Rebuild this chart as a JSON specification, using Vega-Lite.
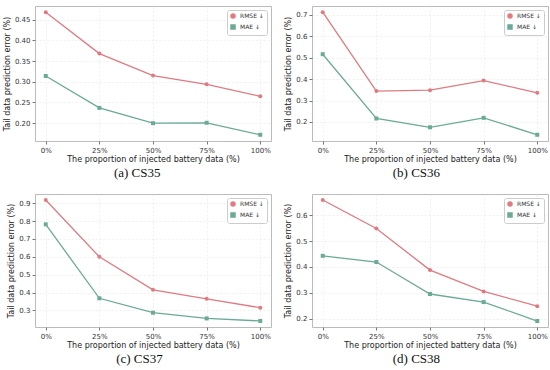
{
  "$schema": "https://vega.github.io/schema/vega-lite/v6.json",
  "padding": {"left": 2, "top": 5, "right": 5, "bottom": 2},
  "background": "white",
  "columns": 2,
  "spacing": {"column": 12, "row": 12},
  "datasets": {
    "errs": [
      {"panel": "a", "prop": "0%", "metric": "RMSE ↓", "value": 0.468},
      {"panel": "a", "prop": "25%", "metric": "RMSE ↓", "value": 0.368},
      {"panel": "a", "prop": "50%", "metric": "RMSE ↓", "value": 0.315},
      {"panel": "a", "prop": "75%", "metric": "RMSE ↓", "value": 0.294},
      {"panel": "a", "prop": "100%", "metric": "RMSE ↓", "value": 0.265},
      {"panel": "a", "prop": "0%", "metric": "MAE ↓", "value": 0.314},
      {"panel": "a", "prop": "25%", "metric": "MAE ↓", "value": 0.237},
      {"panel": "a", "prop": "50%", "metric": "MAE ↓", "value": 0.200},
      {"panel": "a", "prop": "75%", "metric": "MAE ↓", "value": 0.201},
      {"panel": "a", "prop": "100%", "metric": "MAE ↓", "value": 0.172},
      {"panel": "b", "prop": "0%", "metric": "RMSE ↓", "value": 0.712},
      {"panel": "b", "prop": "25%", "metric": "RMSE ↓", "value": 0.344},
      {"panel": "b", "prop": "50%", "metric": "RMSE ↓", "value": 0.348},
      {"panel": "b", "prop": "75%", "metric": "RMSE ↓", "value": 0.393},
      {"panel": "b", "prop": "100%", "metric": "RMSE ↓", "value": 0.336},
      {"panel": "b", "prop": "0%", "metric": "MAE ↓", "value": 0.516},
      {"panel": "b", "prop": "25%", "metric": "MAE ↓", "value": 0.216},
      {"panel": "b", "prop": "50%", "metric": "MAE ↓", "value": 0.175},
      {"panel": "b", "prop": "75%", "metric": "MAE ↓", "value": 0.219},
      {"panel": "b", "prop": "100%", "metric": "MAE ↓", "value": 0.140},
      {"panel": "c", "prop": "0%", "metric": "RMSE ↓", "value": 0.918},
      {"panel": "c", "prop": "25%", "metric": "RMSE ↓", "value": 0.600},
      {"panel": "c", "prop": "50%", "metric": "RMSE ↓", "value": 0.415},
      {"panel": "c", "prop": "75%", "metric": "RMSE ↓", "value": 0.365},
      {"panel": "c", "prop": "100%", "metric": "RMSE ↓", "value": 0.315},
      {"panel": "c", "prop": "0%", "metric": "MAE ↓", "value": 0.782},
      {"panel": "c", "prop": "25%", "metric": "MAE ↓", "value": 0.368},
      {"panel": "c", "prop": "50%", "metric": "MAE ↓", "value": 0.287},
      {"panel": "c", "prop": "75%", "metric": "MAE ↓", "value": 0.255},
      {"panel": "c", "prop": "100%", "metric": "MAE ↓", "value": 0.241},
      {"panel": "d", "prop": "0%", "metric": "RMSE ↓", "value": 0.658},
      {"panel": "d", "prop": "25%", "metric": "RMSE ↓", "value": 0.548},
      {"panel": "d", "prop": "50%", "metric": "RMSE ↓", "value": 0.388},
      {"panel": "d", "prop": "75%", "metric": "RMSE ↓", "value": 0.306},
      {"panel": "d", "prop": "100%", "metric": "RMSE ↓", "value": 0.249},
      {"panel": "d", "prop": "0%", "metric": "MAE ↓", "value": 0.443},
      {"panel": "d", "prop": "25%", "metric": "MAE ↓", "value": 0.419},
      {"panel": "d", "prop": "50%", "metric": "MAE ↓", "value": 0.296},
      {"panel": "d", "prop": "75%", "metric": "MAE ↓", "value": 0.265},
      {"panel": "d", "prop": "100%", "metric": "MAE ↓", "value": 0.192}
    ]
  },
  "data": {"name": "errs"},
  "resolve": {"scale": {"y": "independent"}, "legend": {"color": "independent", "shape": "independent"}},
  "concat": [
    {
      "width": 236, "height": 135,
      "title": {"text": "(a) CS35"},
      "transform": [{"filter": "datum.panel === 'a'"}],
      "encoding": {
        "x": {"field": "prop", "type": "ordinal", "sort": ["0%", "25%", "50%", "75%", "100%"], "scale": {"type": "point", "padding": 0.2}, "title": "The proportion of injected battery data (%)"},
        "y": {"field": "value", "type": "quantitative", "scale": {"domain": [0.157, 0.483], "nice": false, "zero": false}, "axis": {"values": [0.2, 0.25, 0.3, 0.35, 0.4, 0.45], "format": ".2f"}, "title": "Tail data prediction error (%)"},
        "color": {"field": "metric", "type": "nominal", "sort": ["RMSE ↓", "MAE ↓"], "scale": {"domain": ["RMSE ↓", "MAE ↓"], "range": ["#e07a80", "#6aaa96"]}, "title": null}
      },
      "layer": [
        {"mark": {"type": "line", "strokeWidth": 1.3}},
        {"mark": {"type": "point", "filled": true, "size": 16, "opacity": 1},
         "encoding": {"shape": {"field": "metric", "type": "nominal", "sort": ["RMSE ↓", "MAE ↓"], "scale": {"domain": ["RMSE ↓", "MAE ↓"], "range": ["circle", "square"]}, "title": null}}}
      ]
    },
    {
      "width": 236, "height": 135,
      "title": {"text": "(b) CS36"},
      "transform": [{"filter": "datum.panel === 'b'"}],
      "encoding": {
        "x": {"field": "prop", "type": "ordinal", "sort": ["0%", "25%", "50%", "75%", "100%"], "scale": {"type": "point", "padding": 0.2}, "title": "The proportion of injected battery data (%)"},
        "y": {"field": "value", "type": "quantitative", "scale": {"domain": [0.111, 0.741], "nice": false, "zero": false}, "axis": {"values": [0.2, 0.3, 0.4, 0.5, 0.6, 0.7], "format": ".1f"}, "title": "Tail data prediction error (%)"},
        "color": {"field": "metric", "type": "nominal", "sort": ["RMSE ↓", "MAE ↓"], "scale": {"domain": ["RMSE ↓", "MAE ↓"], "range": ["#e07a80", "#6aaa96"]}, "title": null}
      },
      "layer": [
        {"mark": {"type": "line", "strokeWidth": 1.3}},
        {"mark": {"type": "point", "filled": true, "size": 16, "opacity": 1},
         "encoding": {"shape": {"field": "metric", "type": "nominal", "sort": ["RMSE ↓", "MAE ↓"], "scale": {"domain": ["RMSE ↓", "MAE ↓"], "range": ["circle", "square"]}, "title": null}}}
      ]
    },
    {
      "width": 236, "height": 133,
      "title": {"text": "(c) CS37"},
      "transform": [{"filter": "datum.panel === 'c'"}],
      "encoding": {
        "x": {"field": "prop", "type": "ordinal", "sort": ["0%", "25%", "50%", "75%", "100%"], "scale": {"type": "point", "padding": 0.2}, "title": "The proportion of injected battery data (%)"},
        "y": {"field": "value", "type": "quantitative", "scale": {"domain": [0.207, 0.952], "nice": false, "zero": false}, "axis": {"values": [0.3, 0.4, 0.5, 0.6, 0.7, 0.8, 0.9], "format": ".1f"}, "title": "Tail data prediction error (%)"},
        "color": {"field": "metric", "type": "nominal", "sort": ["RMSE ↓", "MAE ↓"], "scale": {"domain": ["RMSE ↓", "MAE ↓"], "range": ["#e07a80", "#6aaa96"]}, "title": null}
      },
      "layer": [
        {"mark": {"type": "line", "strokeWidth": 1.3}},
        {"mark": {"type": "point", "filled": true, "size": 16, "opacity": 1},
         "encoding": {"shape": {"field": "metric", "type": "nominal", "sort": ["RMSE ↓", "MAE ↓"], "scale": {"domain": ["RMSE ↓", "MAE ↓"], "range": ["circle", "square"]}, "title": null}}}
      ]
    },
    {
      "width": 236, "height": 133,
      "title": {"text": "(d) CS38"},
      "transform": [{"filter": "datum.panel === 'd'"}],
      "encoding": {
        "x": {"field": "prop", "type": "ordinal", "sort": ["0%", "25%", "50%", "75%", "100%"], "scale": {"type": "point", "padding": 0.2}, "title": "The proportion of injected battery data (%)"},
        "y": {"field": "value", "type": "quantitative", "scale": {"domain": [0.169, 0.681], "nice": false, "zero": false}, "axis": {"values": [0.2, 0.3, 0.4, 0.5, 0.6], "format": ".1f"}, "title": "Tail data prediction error (%)"},
        "color": {"field": "metric", "type": "nominal", "sort": ["RMSE ↓", "MAE ↓"], "scale": {"domain": ["RMSE ↓", "MAE ↓"], "range": ["#e07a80", "#6aaa96"]}, "title": null}
      },
      "layer": [
        {"mark": {"type": "line", "strokeWidth": 1.3}},
        {"mark": {"type": "point", "filled": true, "size": 16, "opacity": 1},
         "encoding": {"shape": {"field": "metric", "type": "nominal", "sort": ["RMSE ↓", "MAE ↓"], "scale": {"domain": ["RMSE ↓", "MAE ↓"], "range": ["circle", "square"]}, "title": null}}}
      ]
    }
  ],
  "config": {
    "font": "DejaVu Sans",
    "view": {"stroke": "#bbbbbb", "strokeWidth": 1},
    "axis": {"labelFont": "DejaVu Sans", "labelFontSize": 7, "labelColor": "#333333", "titleFont": "DejaVu Sans", "titleFontSize": 8, "titleFontWeight": "normal", "titleColor": "#222222", "domain": false, "tickColor": "#777777", "tickSize": 3, "grid": true, "gridColor": "#e6e6e6", "gridDash": [2, 2], "gridWidth": 0.6, "labelPadding": 2, "titlePadding": 2},
    "axisX": {"labelAngle": 0},
    "axisY": {"titlePadding": 3},
    "legend": {"orient": "top-right", "offset": 4, "labelFont": "DejaVu Sans", "labelFontSize": 6, "labelColor": "#333333", "strokeColor": "#cccccc", "fillColor": "white", "padding": 3, "symbolSize": 16, "rowPadding": 1, "cornerRadius": 2},
    "title": {"orient": "bottom", "font": "Liberation Serif", "fontSize": 13, "fontWeight": "normal", "color": "#111111", "offset": 4, "anchor": "middle", "frame": "bounds"}
  }
}
